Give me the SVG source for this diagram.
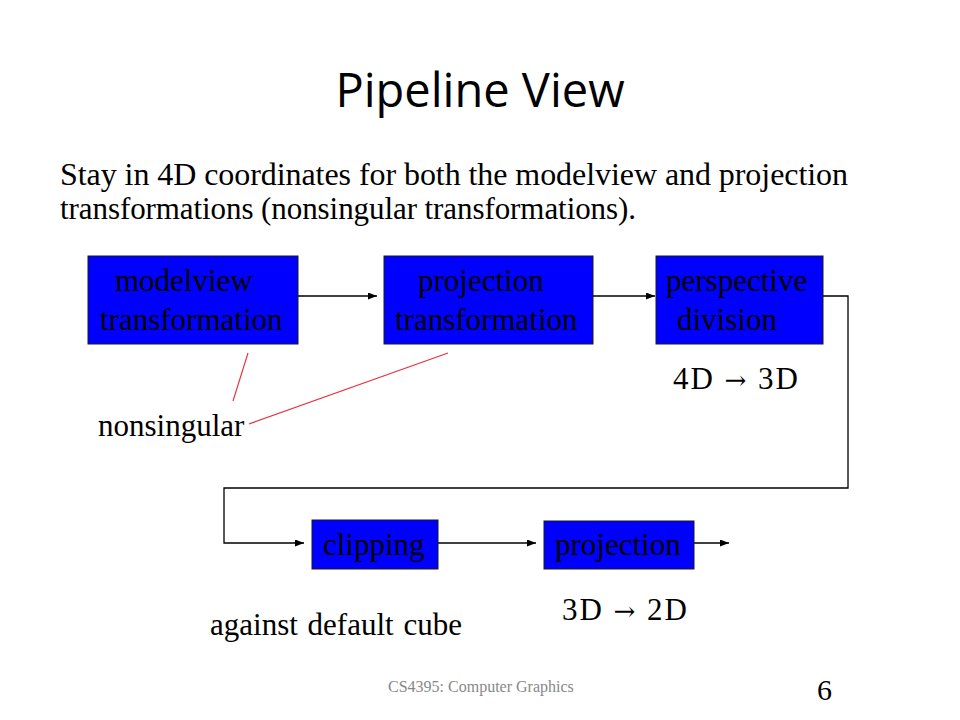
<svg xmlns="http://www.w3.org/2000/svg" width="960" height="720" viewBox="0 0 960 720">
<defs>
<marker id="arr" markerUnits="userSpaceOnUse" markerWidth="10" markerHeight="8" refX="9" refY="3.5" orient="auto">
<path d="M0,0 L9,3.5 L0,7 z" fill="#000"/>
</marker>
<style>
.t{font-family:"Liberation Serif","Times New Roman",serif;fill:#000}
.ar{font-family:"DejaVu Serif","Liberation Serif",serif;font-size:26px}
.box{fill:#0000FF;stroke:#1a1a1a;stroke-width:1}
.lbl{font-size:31px}
.con{fill:none;stroke:#000;stroke-width:1.3}
.red{fill:none;stroke:#E8323C;stroke-width:1.2}
</style>
</defs>
<rect width="960" height="720" fill="#fff"/>
<text x="480" y="107" text-anchor="middle" font-family="'Open Sans','Noto Sans',sans-serif" font-size="47" fill="#000">Pipeline View</text>
<text class="t" x="60" y="185" font-size="32" textLength="788" lengthAdjust="spacing">Stay in 4D coordinates for both the modelview and projection</text>
<text class="t" x="60" y="219" font-size="31" textLength="576" lengthAdjust="spacing">transformations (nonsingular transformations).</text>

<g id="connectors">
<line class="con" x1="298" y1="296" x2="377" y2="296" marker-end="url(#arr)"/>
<line class="con" x1="593" y1="296" x2="655" y2="296" marker-end="url(#arr)"/>
<polyline class="con" points="823,296 848,296 848,488 224,488 224,543 304,543" marker-end="url(#arr)"/>
<line class="con" x1="438" y1="543" x2="536" y2="543" marker-end="url(#arr)"/>
<line class="con" x1="694" y1="543" x2="729" y2="543" marker-end="url(#arr)"/>
<line class="red" x1="248" y1="353" x2="233" y2="401"/>
<line class="red" x1="448" y1="353" x2="249" y2="424"/>
</g>

<g id="node-modelview">
<rect class="box" x="88" y="256" width="210" height="88"/>
<text class="t lbl" x="115" y="291">modelview</text>
<text class="t lbl" x="100" y="330">transformation</text>
</g>
<g id="node-projection-transformation">
<rect class="box" x="384" y="256" width="209" height="88"/>
<text class="t lbl" x="418" y="291">projection</text>
<text class="t lbl" x="395" y="330">transformation</text>
</g>
<g id="node-perspective">
<rect class="box" x="656" y="256" width="167" height="88"/>
<text class="t lbl" x="666" y="291">perspective</text>
<text class="t lbl" x="677" y="330">division</text>
</g>
<g id="node-clipping">
<rect class="box" x="312" y="520" width="126" height="49"/>
<text class="t lbl" x="323" y="555">clipping</text>
</g>
<g id="node-projection">
<rect class="box" x="544" y="521" width="150" height="48"/>
<text class="t lbl" x="555" y="555">projection</text>
</g>

<text class="t" x="673" y="389" font-size="31" textLength="125" lengthAdjust="spacing">4D <tspan class="ar">→</tspan> 3D</text>
<text class="t" x="98" y="436" font-size="31">nonsingular</text>
<text class="t" x="562" y="620" font-size="31" textLength="125" lengthAdjust="spacing">3D <tspan class="ar">→</tspan> 2D</text>
<text class="t" x="210" y="635" font-size="31" word-spacing="2">against default cube</text>
<text x="388" y="692" font-family="'Liberation Serif',serif" font-size="16" fill="#888">CS4395: Computer Graphics</text>
<text class="t" x="817" y="700" font-size="30">6</text>
</svg>
